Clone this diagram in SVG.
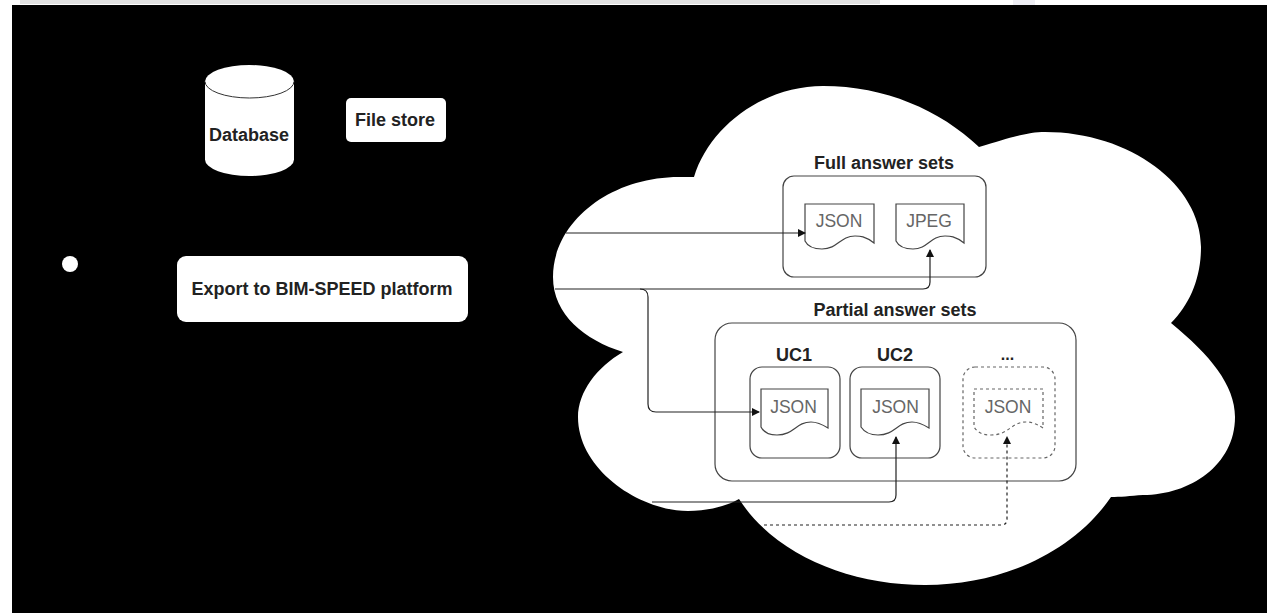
<svg xmlns="http://www.w3.org/2000/svg" width="1267" height="613" viewBox="0 0 1267 613">
<style>
text{font-family:"Liberation Sans",Arial,sans-serif;text-anchor:middle;fill:#222}
.b{font-weight:bold;font-size:18px}
.j{font-size:17.5px;fill:#666}
.box{fill:none;stroke:#444;stroke-width:1.2}
.doc{fill:#fff;stroke:#444;stroke-width:1.2}
.dash{stroke-dasharray:3 3;stroke:#666}
.w{fill:#fff}
.c{fill:none;stroke:#222;stroke-width:1.2}
</style>
<defs><marker id="a" markerWidth="8" markerHeight="8" refX="7" refY="4" orient="auto" markerUnits="userSpaceOnUse"><path d="M0 0L8 4L0 8z" fill="#111"/></marker></defs>
<rect width="1267" height="613" fill="#fff"/>
<rect x="20" y="0" width="860" height="4" fill="#e2e2e2"/>
<rect x="1013" y="0" width="22" height="5" fill="#eeeef4"/>
<rect x="12" y="5" width="1255" height="608" fill="#000"/>
<g id="cloud"><path class="w" d="M694 177C710 125 765 86 823 86C885 86 940 110 979 147C1012 137 1028 132 1045 132C1130 132 1201 185 1201 247C1201 278 1190 304 1171 323C1210 355 1235 385 1235 417C1235 465 1190 495 1143 495C1130 496 1120 497 1111 497C1075 550 1005 585 925 585C850 585 775 555 739 499C725 507 705 511 688 511C640 511 578 470 578 417C578 392 597 367 623 352C585 340 553 315 553 277C553 222 610 177 679 177Z"/></g>
<g id="database"><path class="w" d="M205 81.5A44.5 16.5 0 0 1 294 81.5V159.5A44.5 16.5 0 0 1 205 159.5Z"/><path d="M205 81.5A44.5 16.5 0 0 0 294 81.5" fill="none" stroke="#333"/><text class="b" x="249" y="141">Database</text></g>
<g id="file-store"><rect class="w" x="346" y="98" width="100" height="44" rx="5"/><text class="b" x="395" y="126">File store</text></g>
<g id="start"><circle class="w" cx="70" cy="264" r="8"/></g>
<g id="export"><rect class="w" x="177" y="256" width="291" height="66" rx="9"/><text class="b" x="322" y="295">Export to BIM-SPEED platform</text></g>
<g id="full-answer-sets"><text class="b" x="884" y="169">Full answer sets</text><rect class="box" x="783" y="176" width="203" height="101" rx="11"/></g>
<g id="full-json"><path class="doc" d="M805 204H874V243C865 236 860 236 855 236C840 236 838 249 822 249C814 249 808 247 805 241Z"/><text class="j" x="839" y="227">JSON</text></g>
<g id="full-jpeg"><path class="doc" d="M896 204H964V243C955 236 950 236 945 236C930 236 928 249 913 249C905 249 899 247 896 241Z"/><text class="j" x="929" y="227">JPEG</text></g>
<g id="partial-answer-sets"><text class="b" x="895" y="316">Partial answer sets</text><rect class="box" x="715" y="323" width="361" height="158" rx="17"/></g>
<g id="uc1"><text class="b" x="794" y="361">UC1</text><rect class="box" x="750" y="367" width="90" height="91" rx="12"/></g>
<g id="uc1-json"><path class="doc" d="M761 389H828V428C820 423 816 422 811 422C796 422 794 435 777 435C769 435 764 433 761 427Z"/><text class="j" x="793.5" y="413">JSON</text></g>
<g id="uc2"><text class="b" x="895" y="361">UC2</text><rect class="box" x="850" y="367" width="90" height="91" rx="12"/></g>
<g id="uc2-json"><path class="doc" d="M861 389H929V428C921 423 917 422 912 422C897 422 895 435 878 435C870 435 865 433 861 427Z"/><text class="j" x="895.5" y="413">JSON</text></g>
<g id="uc-more"><text class="b" x="1007.5" y="360" style="font-size:16px">...</text><rect class="box dash" x="963" y="367" width="92" height="91" rx="12"/></g>
<g id="more-json"><path class="doc dash" d="M974 389H1043V428C1035 423 1031 422 1026 422C1011 422 1009 435 991 435C983 435 978 433 974 427Z"/><text class="j" x="1008" y="413">JSON</text></g>
<g id="connectors">
<path class="c" marker-end="url(#a)" d="M566 233H805"/>
<path class="c" marker-end="url(#a)" d="M555 289H923Q930 289 930 282V250"/>
<path class="c" marker-end="url(#a)" d="M640 289Q648 289 648 297V404Q648 412 656 412H759"/>
<path class="c" marker-end="url(#a)" d="M652 502H889Q896 502 896 495V437"/>
<path class="c dash" marker-end="url(#a)" d="M764 525H1001Q1007 525 1007 519V437"/>
</g>
</svg>
